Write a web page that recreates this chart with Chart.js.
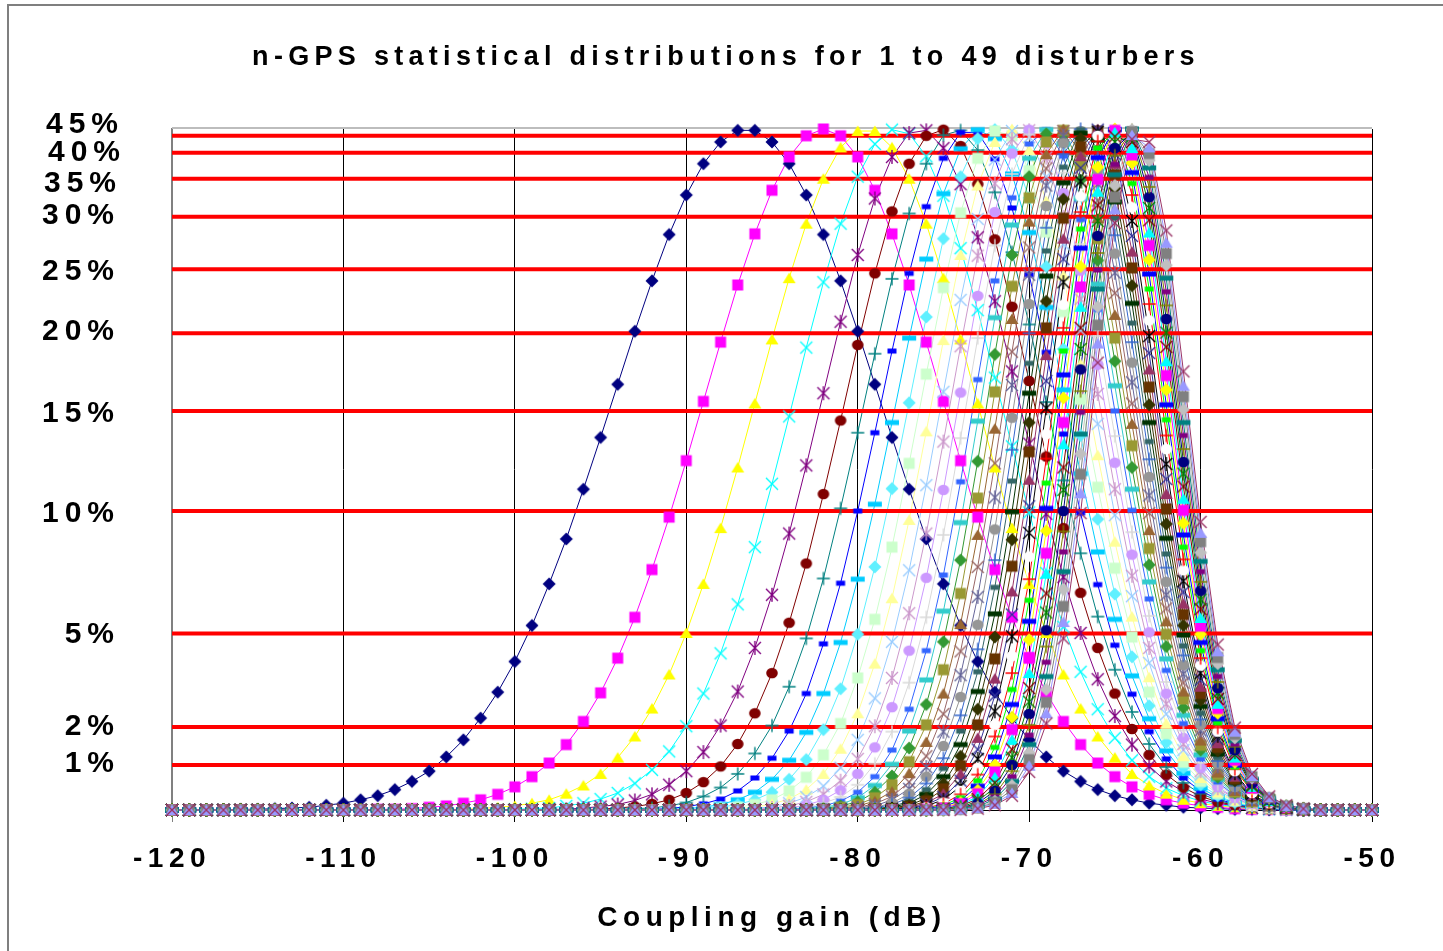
<!DOCTYPE html>
<html>
<head>
<meta charset="utf-8">
<style>
html,body{margin:0;padding:0;background:#ffffff;}
#wrap{width:1443px;height:951px;position:relative;}
canvas{display:block;}
</style>
<script src="https://cdn.jsdelivr.net/npm/chart.js@4.4.1/dist/chart.umd.min.js"></script>
</head>
<body>
<div id="wrap"><canvas id="c" width="1443" height="951" style="width:1443px;height:951px"></canvas></div>
<script>
// ---------------- data ----------------
const chartTitle = 'n-GPS statistical distributions for 1 to 49 disturbers';
const axisTitle = 'Coupling gain (dB)';

const xValues = [-120,-119,-118,-117,-116,-115,-114,-113,-112,-111,
-110,-109,-108,-107,-106,-105,-104,-103,-102,-101,
-100,-99,-98,-97,-96,-95,-94,-93,-92,-91,
-90,-89,-88,-87,-86,-85,-84,-83,-82,-81,
-80,-79,-78,-77,-76,-75,-74,-73,-72,-71,
-70,-69,-68,-67,-66,-65,-64,-63,-62,-61,
-60,-59,-58,-57,-56,-55,-54,-53,-52,-51,
-50];

// level lines (relative level, 0..1000) and their labels
const levelValues = [990,965,927,871,794,700,586,439,259,122,66];
const levelLabels = ['45%','40%','35%','30%','25%','20%','15%','10%','5%','2%','1%'];

const s1 = [0,0,0,0,1,1,2,3,4,7,
10,15,21,30,42,57,78,103,135,173,
218,271,332,398,471,547,625,703,777,845,
903,949,981,998,998,981,949,903,845,777,
703,625,547,471,398,332,271,218,173,135,
103,78,57,42,30,21,15,10,7,4,
3,2,1,1,0,0,0,0,0,0,
0];
const s2 = [0,0,0,0,0,0,0,0,0,0,
0,0,1,1,2,4,6,10,15,23,
34,49,69,96,130,172,223,283,353,430,
513,600,687,771,846,910,959,990,1000,990,
959,910,846,771,687,600,513,430,353,283,
223,172,130,96,69,49,34,23,15,10,
6,4,2,1,1,0,0,0,0,0,
0];
const s3 = [0,0,0,0,0,0,0,0,0,0,
0,0,0,0,0,0,1,1,2,4,
6,10,15,24,36,53,77,108,149,199,
260,332,414,503,597,691,781,861,927,973,
997,997,973,927,861,781,691,597,503,414,
332,260,199,149,108,77,53,36,24,15,
10,6,4,2,1,1,0,0,0,0,
0];
const s4 = [0,0,0,0,0,0,0,0,0,0,
0,0,0,0,0,0,0,0,0,0,
1,2,3,6,10,16,25,39,59,86,
123,171,230,302,386,479,578,679,775,861,
930,978,999,993,960,902,825,734,635,534,
437,348,269,203,148,106,73,49,32,21,
13,8,5,3,1,1,0,0,0,0,
0];
const s5 = [0,0,0,0,0,0,0,0,0,0,
0,0,0,0,0,0,0,0,0,0,
0,0,1,1,3,5,8,14,23,37,
57,85,124,174,238,316,406,506,612,717,
815,898,959,994,998,972,919,841,747,644,
538,435,342,260,192,138,96,64,42,27,
16,10,6,3,2,1,0,0,0,0,
0];
const s6 = [0,0,0,0,0,0,0,0,0,0,
0,0,0,0,0,0,0,0,0,0,
0,0,0,0,1,1,3,5,9,15,
25,41,64,97,142,201,275,362,464,572,
683,788,879,949,990,999,975,919,838,739,
630,519,414,319,238,171,119,81,52,33,
20,12,7,4,2,1,0,0,0,0,
0];
const s7 = [0,0,0,0,0,0,0,0,0,0,
0,0,0,0,0,0,0,0,0,0,
0,0,0,0,0,0,1,2,3,6,
11,20,33,53,83,124,181,252,340,443,
554,670,780,876,949,991,998,969,907,819,
713,599,484,377,284,206,144,97,63,40,
24,14,8,4,2,1,0,0,0,0,
0];
const s8 = [0,0,0,0,0,0,0,0,0,0,
0,0,0,0,0,0,0,0,0,0,
0,0,0,0,0,0,0,0,1,2,
5,9,16,28,47,76,116,171,244,333,
439,554,674,788,886,957,995,995,956,884,
786,672,552,436,331,242,170,115,75,47,
28,16,9,5,2,1,0,0,0,0,
0];
const s9 = [0,0,0,0,0,0,0,0,0,0,
0,0,0,0,0,0,0,0,0,0,
0,0,0,0,0,0,0,0,0,1,
2,4,8,15,26,45,73,114,171,246,
339,449,569,693,809,905,971,999,986,934,
848,738,617,494,379,280,197,134,87,54,
32,19,10,5,3,1,0,0,0,0,
0];
const s10 = [0,0,0,0,0,0,0,0,0,0,
0,0,0,0,0,0,0,0,0,0,
0,0,0,0,0,0,0,0,0,0,
1,2,4,8,15,26,45,74,118,178,
258,357,472,598,724,839,930,986,999,969,
899,798,677,550,427,317,225,153,99,62,
37,21,11,6,3,1,1,0,0,0,
0];
const s11 = [0,0,0,0,0,0,0,0,0,0,
0,0,0,0,0,0,0,0,0,0,
0,0,0,0,0,0,0,0,0,0,
0,1,2,4,8,15,28,48,81,127,
194,280,386,509,640,767,877,957,997,990,
939,849,732,603,474,355,254,173,112,70,
42,24,13,6,3,1,1,0,0,0,
0];
const s12 = [0,0,0,0,0,0,0,0,0,0,
0,0,0,0,0,0,0,0,0,0,
0,0,0,0,0,0,0,0,0,0,
0,0,1,2,4,9,16,30,53,90,
142,215,311,426,556,690,815,917,981,1000,
969,894,785,655,521,394,284,195,127,79,
47,26,14,7,3,2,1,0,0,0,
0];
const s13 = [0,0,0,0,0,0,0,0,0,0,
0,0,0,0,0,0,0,0,0,0,
0,0,0,0,0,0,0,0,0,0,
0,0,0,1,2,5,10,19,35,62,
103,164,247,352,477,614,749,868,955,997,
988,930,831,704,567,433,314,216,141,88,
52,29,15,8,4,2,1,0,0,0,
0];
const s14 = [0,0,0,0,0,0,0,0,0,0,
0,0,0,0,0,0,0,0,0,0,
0,0,0,0,0,0,0,0,0,0,
0,0,0,0,1,3,6,12,23,43,
75,123,194,289,406,541,681,814,920,985,
998,958,871,750,611,471,344,238,156,97,
57,32,17,8,4,2,1,0,0,0,
0];
const s15 = [0,0,0,0,0,0,0,0,0,0,
0,0,0,0,0,0,0,0,0,0,
0,0,0,0,0,0,0,0,0,0,
0,0,0,0,0,1,3,7,15,29,
53,92,151,234,341,470,613,755,878,964,
999,979,906,792,654,510,375,261,171,106,
62,34,18,9,4,2,1,0,0,0,
0];
const s16 = [0,0,0,0,0,0,0,0,0,0,
0,0,0,0,0,0,0,0,0,0,
0,0,0,0,0,0,0,0,0,0,
0,0,0,0,0,1,2,4,10,19,
37,68,115,187,283,404,546,693,829,934,
992,993,936,831,696,549,408,285,188,117,
69,38,20,10,4,2,1,0,0,0,
0];
const s17 = [0,0,0,0,0,0,0,0,0,0,
0,0,0,0,0,0,0,0,0,0,
0,0,0,0,0,0,0,0,0,0,
0,0,0,0,0,0,1,3,6,13,
26,49,88,148,234,345,482,632,777,899,
978,999,960,867,735,586,440,310,205,127,
75,41,21,10,5,2,1,0,0,0,
0];
const s18 = [0,0,0,0,0,0,0,0,0,0,
0,0,0,0,0,0,0,0,0,0,
0,0,0,0,0,0,0,0,0,0,
0,0,0,0,0,0,1,2,4,8,
18,36,67,116,191,292,422,571,723,859,
957,999,978,898,772,623,471,335,222,139,
81,45,23,11,5,2,1,0,0,0,
0];
const s19 = [0,0,0,0,0,0,0,0,0,0,
0,0,0,0,0,0,0,0,0,0,
0,0,0,0,0,0,0,0,0,0,
0,0,0,0,0,0,0,1,2,6,
12,26,50,91,155,247,367,512,669,815,
930,993,991,925,807,659,503,360,240,150,
88,48,25,12,5,2,1,0,0,0,
0];
const s20 = [0,0,0,0,0,0,0,0,0,0,
0,0,0,0,0,0,0,0,0,0,
0,0,0,0,0,0,0,0,0,0,
0,0,0,0,0,0,0,0,1,4,
8,18,37,71,125,206,318,458,614,769,
899,981,998,947,839,693,535,384,258,163,
95,52,26,12,6,2,1,0,0,0,
0];
const s21 = [0,0,0,0,0,0,0,0,0,0,
0,0,0,0,0,0,0,0,0,0,
0,0,0,0,0,0,0,0,0,0,
0,0,0,0,0,0,0,0,1,2,
6,13,27,54,100,171,273,404,560,721,
864,963,1000,966,869,727,567,411,277,174,
102,55,28,13,6,2,1,0,0,0,
0];
const s22 = [0,0,0,0,0,0,0,0,0,0,
0,0,0,0,0,0,0,0,0,0,
0,0,0,0,0,0,0,0,0,0,
0,0,0,0,0,0,0,0,0,1,
4,9,20,41,79,141,233,357,509,673,
826,942,997,980,895,759,597,436,296,187,
109,59,30,14,6,2,1,0,0,0,
0];
const s23 = [0,0,0,0,0,0,0,0,0,0,
0,0,0,0,0,0,0,0,0,0,
0,0,0,0,0,0,0,0,0,0,
0,0,0,0,0,0,0,0,0,1,
3,6,15,31,63,115,198,313,459,624,
786,917,990,991,919,789,628,462,316,200,
117,64,32,15,6,3,1,0,0,0,
0];
const s24 = [0,0,0,0,0,0,0,0,0,0,
0,0,0,0,0,0,0,0,0,0,
0,0,0,0,0,0,0,0,0,0,
0,0,0,0,0,0,0,0,0,0,
2,4,10,24,49,94,166,272,412,576,
743,887,979,997,939,817,657,489,335,213,
125,68,34,16,7,3,1,0,0,0,
0];
const s25 = [0,0,0,0,0,0,0,0,0,0,
0,0,0,0,0,0,0,0,0,0,
0,0,0,0,0,0,0,0,0,0,
0,0,0,0,0,0,0,0,0,0,
1,3,8,18,39,76,139,236,367,529,
700,855,963,1000,957,844,687,515,356,227,
133,72,36,16,7,3,1,0,0,0,
0];
const s26 = [0,0,0,0,0,0,0,0,0,0,
0,0,0,0,0,0,0,0,0,0,
0,0,0,0,0,0,0,0,0,0,
0,0,0,0,0,0,0,0,0,0,
1,2,5,13,30,61,116,203,327,483,
656,821,944,999,972,869,715,541,376,241,
142,77,39,17,7,3,1,0,0,0,
0];
const s27 = [0,0,0,0,0,0,0,0,0,0,
0,0,0,0,0,0,0,0,0,0,
0,0,0,0,0,0,0,0,0,0,
0,0,0,0,0,0,0,0,0,0,
0,1,4,10,23,49,96,174,288,438,
612,784,921,994,984,893,744,569,399,257,
152,82,41,19,8,3,1,0,0,0,
0];
const s28 = [0,0,0,0,0,0,0,0,0,0,
0,0,0,0,0,0,0,0,0,0,
0,0,0,0,0,0,0,0,0,0,
0,0,0,0,0,0,0,0,0,0,
0,1,3,7,17,39,79,148,254,397,
569,747,897,986,992,913,770,595,420,271,
161,87,43,20,8,3,1,0,0,0,
0];
const s29 = [0,0,0,0,0,0,0,0,0,0,
0,0,0,0,0,0,0,0,0,0,
0,0,0,0,0,0,0,0,0,0,
0,0,0,0,0,0,0,0,0,0,
0,1,2,5,13,31,65,125,222,358,
526,708,869,974,997,933,796,621,442,287,
171,92,46,21,9,3,1,0,0,0,
0];
const s30 = [0,0,0,0,0,0,0,0,0,0,
0,0,0,0,0,0,0,0,0,0,
0,0,0,0,0,0,0,0,0,0,
0,0,0,0,0,0,0,0,0,0,
0,0,1,4,10,24,53,106,193,321,
485,668,839,960,1000,949,820,647,464,303,
181,98,49,22,9,3,1,0,0,0,
0];
const s31 = [0,0,0,0,0,0,0,0,0,0,
0,0,0,0,0,0,0,0,0,0,
0,0,0,0,0,0,0,0,0,0,
0,0,0,0,0,0,0,0,0,0,
0,0,1,3,8,19,43,89,168,287,
446,630,809,943,999,963,843,671,486,320,
191,104,51,23,9,3,1,0,0,0,
0];
const s32 = [0,0,0,0,0,0,0,0,0,0,
0,0,0,0,0,0,0,0,0,0,
0,0,0,0,0,0,0,0,0,0,
0,0,0,0,0,0,0,0,0,0,
0,0,1,2,6,15,35,75,145,255,
407,590,775,923,996,975,865,696,508,336,
201,109,54,24,10,4,1,0,0,0,
0];
const s33 = [0,0,0,0,0,0,0,0,0,0,
0,0,0,0,0,0,0,0,0,0,
0,0,0,0,0,0,0,0,0,0,
0,0,0,0,0,0,0,0,0,0,
0,0,0,1,4,11,28,62,125,226,
372,552,742,901,990,984,885,719,530,352,
212,115,57,25,10,4,1,0,0,0,
0];
const s34 = [0,0,0,0,0,0,0,0,0,0,
0,0,0,0,0,0,0,0,0,0,
0,0,0,0,0,0,0,0,0,0,
0,0,0,0,0,0,0,0,0,0,
0,0,0,1,3,9,23,52,108,201,
339,516,708,878,982,991,903,743,550,368,
223,121,60,27,11,4,1,0,0,0,
0];
const s35 = [0,0,0,0,0,0,0,0,0,0,
0,0,0,0,0,0,0,0,0,0,
0,0,0,0,0,0,0,0,0,0,
0,0,0,0,0,0,0,0,0,0,
0,0,0,1,2,7,18,43,92,177,
308,480,674,853,972,996,920,765,573,386,
234,128,63,28,11,4,1,0,0,0,
0];
const s36 = [0,0,0,0,0,0,0,0,0,0,
0,0,0,0,0,0,0,0,0,0,
0,0,0,0,0,0,0,0,0,0,
0,0,0,0,0,0,0,0,0,0,
0,0,0,0,2,5,14,35,78,155,
277,443,639,825,958,999,936,787,595,404,
246,134,66,29,12,4,1,0,0,0,
0];
const s37 = [0,0,0,0,0,0,0,0,0,0,
0,0,0,0,0,0,0,0,0,0,
0,0,0,0,0,0,0,0,0,0,
0,0,0,0,0,0,0,0,0,0,
0,0,0,0,1,4,11,29,66,136,
250,410,605,798,944,1000,950,808,617,421,
258,142,70,31,12,4,1,0,0,0,
0];
const s38 = [0,0,0,0,0,0,0,0,0,0,
0,0,0,0,0,0,0,0,0,0,
0,0,0,0,0,0,0,0,0,0,
0,0,0,0,0,0,0,0,0,0,
0,0,0,0,1,3,9,24,56,118,
224,377,569,768,926,998,962,829,638,440,
270,149,73,32,13,4,1,0,0,0,
0];
const s39 = [0,0,0,0,0,0,0,0,0,0,
0,0,0,0,0,0,0,0,0,0,
0,0,0,0,0,0,0,0,0,0,
0,0,0,0,0,0,0,0,0,0,
0,0,0,0,1,2,7,20,48,103,
201,347,537,739,908,995,972,848,659,457,
282,156,77,34,13,5,1,0,0,0,
0];
const s40 = [0,0,0,0,0,0,0,0,0,0,
0,0,0,0,0,0,0,0,0,0,
0,0,0,0,0,0,0,0,0,0,
0,0,0,0,0,0,0,0,0,0,
0,0,0,0,0,2,6,16,40,89,
179,318,503,708,888,989,981,866,680,475,
295,163,81,35,14,5,1,0,0,0,
0];
const s41 = [0,0,0,0,0,0,0,0,0,0,
0,0,0,0,0,0,0,0,0,0,
0,0,0,0,0,0,0,0,0,0,
0,0,0,0,0,0,0,0,0,0,
0,0,0,0,0,1,4,13,33,77,
159,290,470,677,865,981,989,884,701,494,
309,172,85,37,14,5,1,0,0,0,
0];
const s42 = [0,0,0,0,0,0,0,0,0,0,
0,0,0,0,0,0,0,0,0,0,
0,0,0,0,0,0,0,0,0,0,
0,0,0,0,0,0,0,0,0,0,
0,0,0,0,0,1,3,10,28,66,
141,264,439,647,843,972,994,900,721,511,
322,179,88,39,15,5,2,0,0,0,
0];
const s43 = [0,0,0,0,0,0,0,0,0,0,
0,0,0,0,0,0,0,0,0,0,
0,0,0,0,0,0,0,0,0,0,
0,0,0,0,0,0,0,0,0,0,
0,0,0,0,0,1,3,8,23,57,
125,240,409,615,818,961,998,915,741,530,
335,188,93,40,16,5,2,0,0,0,
0];
const s44 = [0,0,0,0,0,0,0,0,0,0,
0,0,0,0,0,0,0,0,0,0,
0,0,0,0,0,0,0,0,0,0,
0,0,0,0,0,0,0,0,0,0,
0,0,0,0,0,0,2,7,19,49,
110,217,379,584,793,948,1000,929,761,550,
350,196,97,42,16,6,2,0,0,0,
0];
const s45 = [0,0,0,0,0,0,0,0,0,0,
0,0,0,0,0,0,0,0,0,0,
0,0,0,0,0,0,0,0,0,0,
0,0,0,0,0,0,0,0,0,0,
0,0,0,0,0,0,2,5,16,42,
96,196,350,552,765,933,1000,943,781,569,
365,206,102,45,17,6,2,0,0,0,
0];
const s46 = [0,0,0,0,0,0,0,0,0,0,
0,0,0,0,0,0,0,0,0,0,
0,0,0,0,0,0,0,0,0,0,
0,0,0,0,0,0,0,0,0,0,
0,0,0,0,0,0,1,4,13,36,
84,177,324,523,739,917,999,954,800,588,
378,215,106,47,18,6,2,0,0,0,
0];
const s47 = [0,0,0,0,0,0,0,0,0,0,
0,0,0,0,0,0,0,0,0,0,
0,0,0,0,0,0,0,0,0,0,
0,0,0,0,0,0,0,0,0,0,
0,0,0,0,0,0,1,3,11,30,
74,158,299,493,712,900,996,964,817,607,
394,224,111,49,18,6,2,0,0,0,
0];
const s48 = [0,0,0,0,0,0,0,0,0,0,
0,0,0,0,0,0,0,0,0,0,
0,0,0,0,0,0,0,0,0,0,
0,0,0,0,0,0,0,0,0,0,
0,0,0,0,0,0,1,3,9,25,
65,142,276,465,685,882,991,973,833,623,
407,233,115,50,19,6,2,0,0,0,
0];
const s49 = [0,0,0,0,0,0,0,0,0,0,
0,0,0,0,0,0,0,0,0,0,
0,0,0,0,0,0,0,0,0,0,
0,0,0,0,0,0,0,0,0,0,
0,0,0,0,0,0,0,2,7,21,
56,127,252,436,657,862,985,981,851,644,
423,243,121,53,20,7,2,0,0,0,
0];

const seriesValues = [s1,s2,s3,s4,s5,s6,s7,s8,s9,s10,s11,s12,s13,s14,s15,s16,s17,s18,s19,s20,
s21,s22,s23,s24,s25,s26,s27,s28,s29,s30,s31,s32,s33,s34,s35,s36,s37,s38,s39,s40,
s41,s42,s43,s44,s45,s46,s47,s48,s49];

// ---------------- styles ----------------
const seriesColors = ['#000080','#FF00FF','#FFFF00','#00FFFF','#800080','#800000','#008080','#0000FF','#00CCFF',
'#5FF0FF','#CCFFCC','#FFFF99','#99CCFF','#CC99CC','#CC99FF','#D9D9D9','#3366FF','#33CCCC',
'#339933','#999933','#996633','#996666','#666699','#969696','#3366CC','#336666','#003300',
'#333300','#663300','#993366','#333399','#000000','#FFFFFF','#FF0000','#00FF00','#0000FF',
'#FFFF00','#FF00FF','#00FFFF','#800000','#008000','#000080','#808000','#800080','#008080',
'#C0C0C0','#808080','#9999FF','#993366'];
const markerCycle = ['diamond','square','triangle','x','star','circle','plus','dot','dash'];
const labelShift = [-11,0,5,-1,2.5,-2,3,3,1.5,0,-1];
const labelRight = [124,126,122,120,120,120,120,120,120,120,120];
const FONT = '"Liberation Sans", Arial, Helvetica, sans-serif';

function makeMarker(shape, color) {
  const S = 18, m = 9;
  const c = document.createElement('canvas');
  c.width = S; c.height = S;
  const g = c.getContext('2d');
  g.fillStyle = color; g.strokeStyle = color; g.lineWidth = 1.4; g.lineCap = 'butt';
  g.beginPath();
  switch (shape) {
    case 'diamond':
      g.moveTo(m, m - 6.5); g.lineTo(m + 6.5, m); g.lineTo(m, m + 6.5); g.lineTo(m - 6.5, m); g.closePath(); g.fill(); break;
    case 'square':
      g.fillRect(m - 5.5, m - 5.5, 11, 11); break;
    case 'triangle':
      g.moveTo(m, m - 5.5); g.lineTo(m + 6.5, m + 5); g.lineTo(m - 6.5, m + 5); g.closePath(); g.fill(); break;
    case 'x':
      g.moveTo(m - 6, m - 6); g.lineTo(m + 6, m + 6); g.moveTo(m + 6, m - 6); g.lineTo(m - 6, m + 6); g.stroke(); break;
    case 'star':
      g.moveTo(m - 6, m - 6); g.lineTo(m + 6, m + 6); g.moveTo(m + 6, m - 6); g.lineTo(m - 6, m + 6);
      g.moveTo(m, m - 7); g.lineTo(m, m + 7); g.stroke(); break;
    case 'circle':
      g.ellipse(m, m, 5.8, 5.2, 0, 0, Math.PI * 2); g.fill(); break;
    case 'plus':
      g.moveTo(m - 6.5, m); g.lineTo(m + 6.5, m); g.moveTo(m, m - 6.5); g.lineTo(m, m + 6.5); g.stroke(); break;
    case 'dot':
      g.fillRect(m - 4.5, m - 2.5, 9, 5); break;
    case 'dash':
      g.fillRect(m - 7, m - 2.5, 14, 5); break;
  }
  return c;
}

// ---------------- datasets ----------------
const datasets = [];
seriesValues.forEach((vals, i) => {
  const pts = vals.map((v, k) => ({x: xValues[k], y: v}));
  const color = seriesColors[i];
  datasets.push({
    label: 'n=' + (i + 1) + ' line', data: pts, order: 300 - i,
    borderColor: color, borderWidth: 1, pointRadius: 0, pointHoverRadius: 0,
    fill: false, tension: 0, clip: false
  });
  datasets.push({
    label: 'n=' + (i + 1), data: pts, order: 100 - i, showLine: false,
    pointStyle: makeMarker(markerCycle[i % 9], color), pointRadius: 5, pointHoverRadius: 5,
    borderColor: color, backgroundColor: color, clip: false
  });
});
levelValues.forEach((v, i) => {
  datasets.push({
    label: levelLabels[i], data: [{x: xValues[0], y: v}, {x: xValues[xValues.length - 1], y: v}],
    order: 200, borderColor: '#FF0000', borderWidth: 4, pointRadius: 0, pointHoverRadius: 0,
    fill: false, tension: 0, clip: false
  });
});

const decor = {
  id: 'decor',
  beforeDraw(chart) {
    const ctx = chart.ctx;
    ctx.letterSpacing = '5.5px';
    ctx.save();
    ctx.fillStyle = '#7f7f7f';
    ctx.fillRect(7, 4, 1436, 2);
    ctx.fillRect(7, 4, 2, 947);
    ctx.restore();
  },
  beforeDatasetsDraw(chart) {
    const {ctx, chartArea: a} = chart;
    ctx.save();
    ctx.strokeStyle = '#bdbdbd'; ctx.lineWidth = 2;
    ctx.beginPath(); ctx.moveTo(a.left, a.top - 1); ctx.lineTo(a.right, a.top - 1); ctx.stroke();
    ctx.restore();
  },
  afterDraw(chart) {
    const ctx = chart.ctx, ys = chart.scales.y;
    ctx.save();
    ctx.letterSpacing = '5.3px';
    ctx.fillStyle = '#000000';
    ctx.textBaseline = 'middle';
    ctx.font = 'bold 27px ' + FONT;
    ctx.textAlign = 'center';
    ctx.fillText(chartTitle, 726, 58);
    ctx.font = 'bold 30px ' + FONT;
    ctx.textAlign = 'right';
    ctx.letterSpacing = '6px';
    levelValues.forEach((v, i) => {
      ctx.fillText(levelLabels[i], labelRight[i], ys.getPixelForValue(v) + labelShift[i]);
    });
    ctx.restore();
  }
};

new Chart(document.getElementById('c'), {
  type: 'line',
  data: {datasets},
  plugins: [decor],
  options: {
    responsive: false, animation: false, events: [],
    layout: {padding: {left: 0, right: 71, top: 129, bottom: 0}},
    plugins: {legend: {display: false}, tooltip: {enabled: false}, title: {display: false}},
    scales: {
      x: {
        type: 'linear', min: -120, max: -50,
        ticks: {stepSize: 10, color: '#000', font: {family: FONT, size: 28, weight: 'bold'}, padding: 20, maxRotation: 0, autoSkip: false},
        grid: {
          color: c => (c.tick && c.tick.value === -120) ? '#808080' : '#000000',
          lineWidth: 1, drawTicks: true, tickLength: 12
        },
        border: {display: true, color: '#000000', width: 1},
        title: {display: true, text: axisTitle, color: '#000', font: {family: FONT, size: 28, weight: 'bold'}, padding: {top: 0, bottom: 16}},
        afterFit(s) { s.height = 141; }
      },
      y: {
        type: 'linear', min: 0, max: 1000,
        ticks: {display: false},
        grid: {display: false, drawTicks: false},
        border: {display: true, color: '#808080', width: 2},
        afterFit(s) { s.width = 172; }
      }
    }
  }
});
</script>
</body>
</html>
